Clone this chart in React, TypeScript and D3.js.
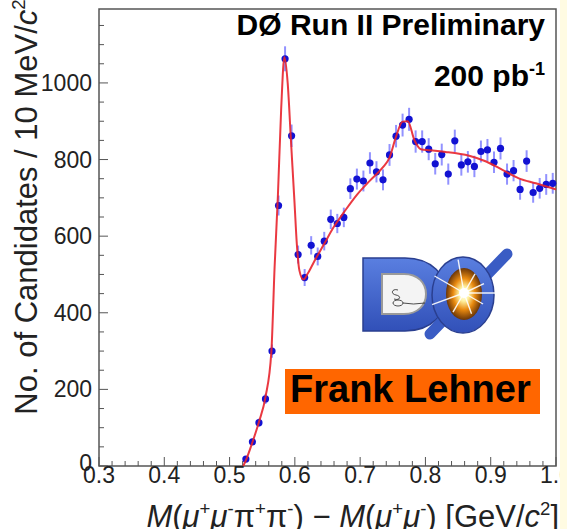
import React from "react";
import * as d3 from "d3";

const W = 567;
const H = 529;

// bin centres (GeV/c^2), 10 MeV bins
const massBins = [
  0.525, 0.535, 0.545, 0.555, 0.565, 0.575, 0.585, 0.595, 0.605, 0.615,
  0.625, 0.635, 0.645, 0.655, 0.665, 0.675, 0.685, 0.695, 0.705, 0.715,
  0.725, 0.735, 0.745, 0.755, 0.765, 0.775, 0.785, 0.795, 0.805, 0.815,
  0.825, 0.835, 0.845, 0.855, 0.865, 0.875, 0.885, 0.895, 0.905, 0.915,
  0.925, 0.935, 0.945, 0.955, 0.965, 0.975, 0.985, 0.995,
];
const candidates = [
  18, 63, 113, 175, 300, 680, 1063, 862, 552, 492,
  576, 547, 587, 644, 633, 649, 724, 749, 744, 791,
  768, 747, 812, 861, 890, 905, 847, 847, 827, 789,
  813, 762, 849, 786, 794, 782, 821, 825, 793, 829,
  762, 771, 722, 796, 714, 725, 735, 738,
];

// fitted curve
const fitMass = [
  0.521, 0.525, 0.535, 0.545, 0.555, 0.564, 0.569, 0.574, 0.579, 0.584,
  0.589, 0.594, 0.5995, 0.603, 0.607, 0.613, 0.62, 0.63, 0.645, 0.66,
  0.675, 0.695, 0.715, 0.735, 0.745, 0.755, 0.765, 0.773, 0.783, 0.793,
  0.806, 0.831, 0.867, 0.893, 0.918, 0.943, 0.969, 1.0,
];
const fitCount = [
  0, 15, 62, 115, 180, 298, 520, 705, 930, 1068,
  1000, 850, 687, 580, 510, 487, 503, 535, 580, 625,
  662, 708, 745, 780, 805, 860, 899, 900, 851, 827,
  824, 820, 810, 795, 773, 751, 738, 722,
];

const xTicks = [0.3, 0.4, 0.5, 0.6, 0.7, 0.8, 0.9, 1.0];
const yTicks = [0, 200, 400, 600, 800, 1000];

const FONT = "'Liberation Sans', Arial, Helvetica, sans-serif";

// superscript via baseline-shift so no empty spacer spans are needed
const Sup = ({ t, fs }: { t: string; fs: number }) => (
  <tspan fontSize={fs * 0.6} baselineShift={fs * 0.38}>
    {t}
  </tspan>
);

const Logo = () => (
  <g>
    <defs>
      <radialGradient id="core" cx="0.5" cy="0.5" r="0.55">
        <stop offset="0" stopColor="#ffffff" />
        <stop offset="0.25" stopColor="#fff2a0" />
        <stop offset="0.55" stopColor="#e98a10" />
        <stop offset="1" stopColor="#4a2005" />
      </radialGradient>
      <linearGradient id="blueg" x1="0" y1="0" x2="0" y2="1">
        <stop offset="0" stopColor="#5a7fe0" />
        <stop offset="1" stopColor="#3150b8" />
      </linearGradient>
    </defs>
    {/* D */}
    <path
      d="M363,258 H405 C432,258 447,276 447,294 C447,313 432,331 405,331 H363 Z"
      fill="url(#blueg)"
      stroke="#2a3f90"
      strokeWidth={1.5}
    />
    <path
      d="M382,274 H404 C418,274 426,283 426,294 C426,305 418,314 404,314 H382 Z"
      fill="#f4f4f4"
      stroke="#9a9a9a"
      strokeWidth={2}
    />
    <path d="M398,290 c-6,-2 -8,4 -2,5 c6,1 4,6 -2,4" fill="none" stroke="#222" strokeWidth={0.8} />
    <ellipse cx={398} cy={303} rx={5} ry={3} fill="none" stroke="#222" strokeWidth={0.8} />
    <path d="M403,303 q10,2 22,0" fill="none" stroke="#222" strokeWidth={0.8} />
    {/* O slash */}
    <line x1={430} y1={334} x2={507} y2={254} stroke="#3a5cc4" strokeWidth={11} strokeLinecap="round" />
    {/* O */}
    <ellipse cx={463} cy={295} rx={31} ry={38} fill="url(#blueg)" stroke="#2a3f90" strokeWidth={1.5} />
    <ellipse cx={464} cy={294} rx={18} ry={26} fill="url(#core)" />
    {[0, 25, 60, 100, 150, 200, 240, 290, 330].map((a) => {
      const r = (a * Math.PI) / 180;
      const len = a % 50 === 0 ? 34 : 22;
      return (
        <line
          key={a}
          x1={464}
          y1={293}
          x2={464 + Math.cos(r) * len}
          y2={293 - Math.sin(r) * len}
          stroke="#ffffff"
          strokeWidth={1.4}
          opacity={0.9}
        />
      );
    })}
    <circle cx={464} cy={293} r={5} fill="#ffffff" />
  </g>
);

export default function App() {
  const left = 99;
  const right = 556;
  const top = 9;
  const bottom = 466;

  const x = d3.scaleLinear().domain([0.3, 1.0]).range([left, right]);
  const y = d3.scaleLinear().domain([0, 1193]).range([bottom, top]);

  const line = d3
    .line<number>()
    .x((_, i) => x(fitMass[i]))
    .y((d) => y(d))
    .curve(d3.curveMonotoneX);

  const xMinor = d3.range(0.3, 1.0001, 0.02);
  const yMinor = d3.range(0, 1193, 50);

  return (
    <svg
      width={W}
      height={H}
      style={{ position: "absolute", left: 0, top: 0, background: "#fff" }}
      fontFamily={FONT}
    >
      <rect x={0} y={0} width={W} height={H} fill="#ffffff" />

      {/* ticks */}
      <g stroke="#555" strokeWidth={1}>
        {xMinor.map((t) => {
          const major = Math.abs(t * 10 - Math.round(t * 10)) < 1e-6;
          return (
            <line key={"xt" + t} x1={x(t)} x2={x(t)} y1={bottom} y2={bottom - (major ? 9 : 5)} />
          );
        })}
        {yMinor.map((t) => (
          <line key={"yt" + t} x1={left} x2={left + (t % 200 === 0 ? 9 : 5)} y1={y(t)} y2={y(t)} />
        ))}
      </g>

      {/* frame */}
      <rect
        x={left}
        y={top}
        width={right - left}
        height={bottom - top}
        fill="none"
        stroke="#555"
        strokeWidth={1.5}
      />

      {/* tick labels */}
      <g fontSize={23} fill="#222">
        {yTicks.map((t) => (
          <text key={"yl" + t} x={92} y={y(t) - (t === 0 ? 3 : 0)} textAnchor="end" dominantBaseline="central">
            {t}
          </text>
        ))}
        {xTicks.map((t) => (
          <text key={"xl" + t} x={x(t)} y={483} textAnchor="middle">
            {t.toFixed(1)}
          </text>
        ))}
      </g>

      {/* axis titles */}
      <text
        transform={`translate(37,207) rotate(-90)`}
        textAnchor="middle"
        fontSize={31}
        fill="#222"
      >
        No. of Candidates / 10 MeV/<tspan fontStyle="italic">c</tspan>
        <Sup t="2" fs={31} />
      </text>
      <text x={559} y={527} textAnchor="end" fontSize={31} fill="#222">
        <tspan fontStyle="italic">M</tspan>(<tspan fontStyle="italic">μ</tspan>
        <Sup t="+" fs={31} />
        <tspan fontStyle="italic">μ</tspan>
        <Sup t="-" fs={31} />π<Sup t="+" fs={31} />π<Sup t="-" fs={31} />) −{" "}
        <tspan fontStyle="italic">M</tspan>(<tspan fontStyle="italic">μ</tspan>
        <Sup t="+" fs={31} />
        <tspan fontStyle="italic">μ</tspan>
        <Sup t="-" fs={31} />) [GeV/<tspan fontStyle="italic">c</tspan>
        <Sup t="2" fs={31} />]
      </text>

      {/* data */}
      <g>
        {candidates.map((n, i) => {
          const e = Math.sqrt(n);
          return (
            <line
              key={"e" + i}
              x1={x(massBins[i])}
              x2={x(massBins[i])}
              y1={y(n + e)}
              y2={y(Math.max(0, n - e))}
              stroke="#8080ff"
              strokeWidth={2}
              opacity={0.85}
            />
          );
        })}
        {candidates.map((n, i) => (
          <circle key={"p" + i} cx={x(massBins[i])} cy={y(n)} r={3.6} fill="#1212d2" />
        ))}
      </g>
      <path d={line(fitCount) || ""} fill="none" stroke="#e8242c" strokeWidth={2} opacity={0.9} />

      {/* labels */}
      <g fontWeight="bold" fill="#000" fontSize={30} textAnchor="end">
        <text x={545} y={35}>DØ Run II Preliminary</text>
        <text x={545} y={86}>
          200 pb<Sup t="-1" fs={30} />
        </text>
      </g>

      <Logo />

      <rect x={285} y={369} width={255} height={45} fill="#ff6600" />
      <text x={290} y={402} fontSize={38} fontWeight="bold" fill="#000">
        Frank Lehner
      </text>

      <rect x={560} y={0} width={7} height={H} fill="#fffbe2" />
    </svg>
  );
}
